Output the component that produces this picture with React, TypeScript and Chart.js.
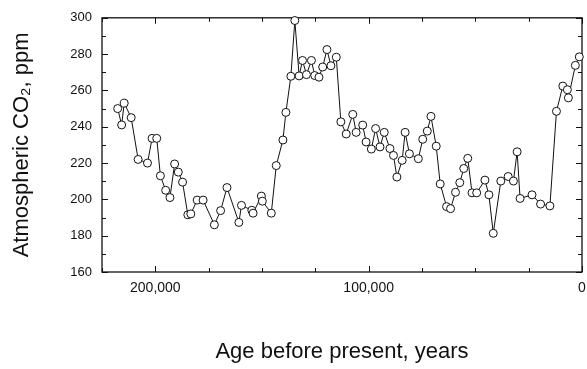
import React, { useEffect, useRef } from "react";
import { Chart, registerables } from "chart.js";

Chart.register(...registerables);

// Age before present (years) and atmospheric CO2 (ppm)
const ages = [
  217650, 215790, 214580, 211320, 208060, 203680, 201540, 199350, 197620, 195160,
  193150, 190960, 189240, 187240, 184770, 183370, 180390, 177600, 172330, 169400,
  166420, 160830, 159620, 154780, 154170, 150300, 149840, 145640, 143320, 140200,
  138800, 136470, 134610, 132600, 131020, 129160, 126830, 125290, 123290, 121560,
  119560, 117700, 115180, 113040, 110530, 107450, 105870, 102790, 101210, 98740,
  96740, 94690, 92690, 90030, 88360, 86770, 84300, 82910, 80900, 76710,
  74660, 72520, 70800, 68330, 66460, 63480, 61620, 59290, 57290, 55430,
  53560, 51560, 49370, 45510, 43640, 41590, 38050, 34610, 32140, 30410,
  29020, 23430, 19420, 15040, 11970, 8990, 6850, 6380, 3120, 1260,
];
const co2 = [
  250, 241, 253, 245, 222, 220, 233.6, 233.6, 213, 205,
  201, 219.5, 215, 209.5, 191.5, 192, 199.6, 199.6, 186, 193.8,
  206.5, 187.3, 196.7, 194, 192.4, 201.8, 199, 192.4, 218.6, 232.7,
  247.9, 267.8, 298.5, 268, 276.5, 268.7, 276.5, 268.2, 267.3, 272.9,
  282.5, 273.6, 278.3, 242.7, 236, 246.8, 236.9, 240.9, 231.6, 227.7,
  239, 228.9, 236.9, 228, 224.2, 212.3, 221.5, 236.9, 225.1, 222.4,
  233.1, 237.6, 245.7, 229.3, 208.5, 196, 194.9, 203.9, 209.2, 217,
  222.6, 203.6, 203.6, 210.6, 202.5, 181.3, 210.1, 212.6, 210.1, 226.2,
  200.5, 202.5, 197.4, 196.4, 248.5, 262.4, 260.4, 255.9, 273.8, 278.5,
];

const xTickValues = [0, 100000, 200000];
const xMinorValues = [0, 25000, 50000, 75000, 100000, 125000, 150000, 175000, 200000, 225000];
const yTickValues = [160, 180, 200, 220, 240, 260, 280, 300];
const yMinorValues = [170, 190, 210, 230, 250, 270, 290];

const FONT = "'Liberation Sans', Arial, Helvetica, sans-serif";

const frameTicks = {
  id: "frameTicks",
  beforeDatasetsDraw(chart: any) {
    const { ctx, chartArea, scales } = chart;
    const { left, right, top, bottom } = chartArea;
    ctx.save();
    ctx.strokeStyle = "#111";
    ctx.lineWidth = 1.3;
    ctx.strokeRect(left, top, right - left, bottom - top);
    ctx.lineWidth = 1;
    ctx.beginPath();
    const xs = scales.x;
    const ys = scales.y;
    xMinorValues.forEach((v) => {
      const len = xTickValues.includes(v) ? 6 : 4;
      const px = Math.round(xs.getPixelForValue(v)) + 0.5;
      ctx.moveTo(px, bottom);
      ctx.lineTo(px, bottom - len);
      ctx.moveTo(px, top);
      ctx.lineTo(px, top + len);
    });
    [...yTickValues, ...yMinorValues].forEach((v) => {
      const len = yTickValues.includes(v) ? 6 : 4;
      const py = Math.round(ys.getPixelForValue(v)) + 0.5;
      ctx.moveTo(left, py);
      ctx.lineTo(left + len, py);
      ctx.moveTo(right, py);
      ctx.lineTo(right - len, py);
    });
    ctx.stroke();
    ctx.restore();
  },
};

export default function App() {
  const ref = useRef<HTMLCanvasElement | null>(null);

  useEffect(() => {
    if (!ref.current) return;
    const data = ages.map((a, i) => ({ x: a, y: co2[i] }));
    const chart = new Chart(ref.current, {
      type: "line",
      data: {
        datasets: [
          {
            data,
            borderColor: "#111",
            borderWidth: 1,
            pointRadius: 4,
            pointBorderWidth: 1,
            pointBackgroundColor: "#fff",
            pointBorderColor: "#111",
            tension: 0,
            clip: false as any,
          },
        ],
      },
      options: {
        animation: false,
        responsive: false,
        maintainAspectRatio: false,
        layout: { padding: { top: 14, right: 2, left: 0, bottom: 0 } },
        plugins: { legend: { display: false }, tooltip: { enabled: false } },
        scales: {
          x: {
            type: "linear",
            reverse: true,
            min: 0,
            max: 225000,
            border: { display: false },
            grid: { display: false, drawTicks: false },
            afterBuildTicks: (s: any) => {
              s.ticks = xTickValues.map((v) => ({ value: v }));
            },
            afterFit: (s: any) => {
              s.height = 97;
            },
            ticks: {
              padding: 8,
              color: "#111",
              maxRotation: 0,
              autoSkip: false,
              font: { family: FONT, size: 14 },
              callback: (v: any) => Number(v).toLocaleString("en-US"),
            },
            title: {
              display: true,
              text: "Age before present, years",
              color: "#111",
              font: { family: FONT, size: 22 },
              padding: { top: 0, bottom: 4 },
            },
          },
          y: {
            type: "linear",
            min: 160,
            max: 300,
            border: { display: false },
            grid: { display: false, drawTicks: false },
            afterBuildTicks: (s: any) => {
              s.ticks = yTickValues.map((v) => ({ value: v }));
            },
            afterFit: (s: any) => {
              s.width = 102;
            },
            ticks: {
              padding: 10,
              color: "#111",
              font: { family: FONT, size: 13 },
            },
            title: {
              display: true,
              text: "Atmospheric CO₂, ppm",
              color: "#111",
              font: { family: FONT, size: 22 },
              padding: { top: 9, bottom: 0 },
            },
          },
        },
      },
      plugins: [frameTicks],
    });
    return () => chart.destroy();
  }, []);

  return (
    <div style={{ position: "fixed", left: 0, top: 0, width: 587, height: 369, background: "#fff" }}>
      <canvas ref={ref} width={587} height={369} style={{ display: "block" }} />
    </div>
  );
}
